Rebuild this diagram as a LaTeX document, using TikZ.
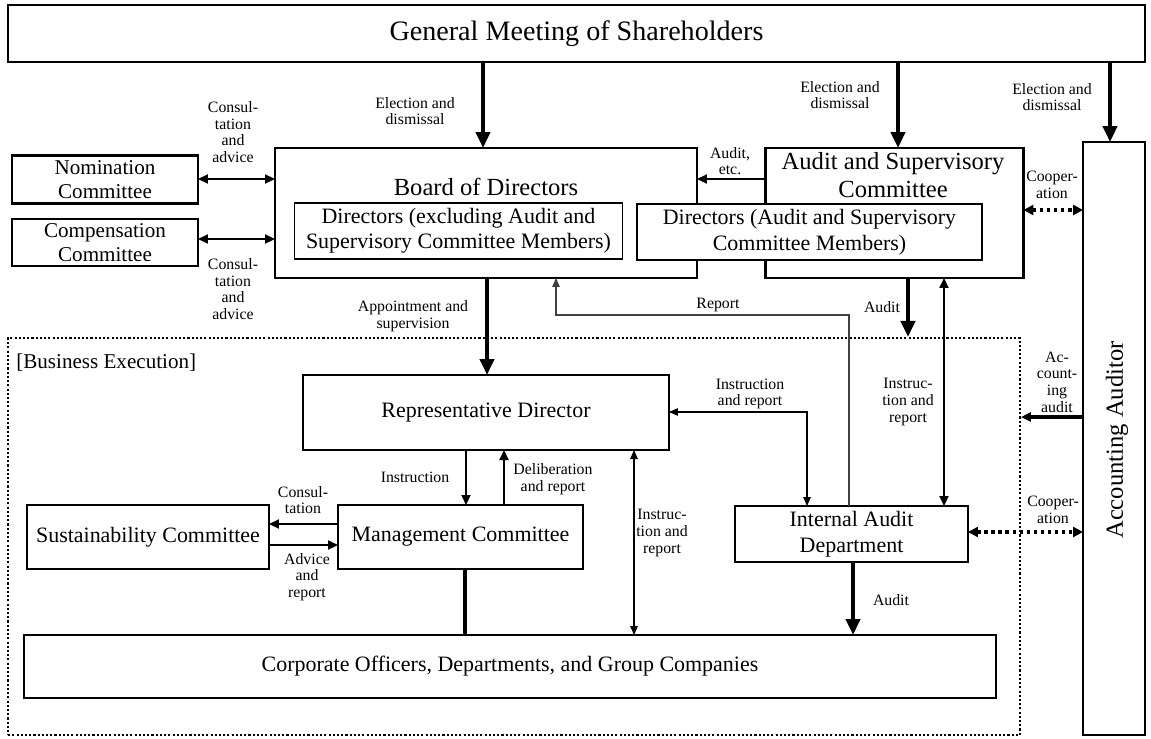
\documentclass[tikz,border=0pt]{standalone}
\usepackage{fontspec}
\setmainfont{Liberation Serif}
\usetikzlibrary{arrows.meta, positioning}

\begin{document}
\begin{tikzpicture}[
    x=0.02cm, y=-0.02cm,
    orgbox/.style={
        draw, line width=1.3pt,
        fill=white,
        align=center,
        inner sep=0pt, outer sep=0pt,
        font=\fontsize{12.5}{14.5}\selectfont
    },
    innerbox/.style={orgbox, line width=1pt},
    titletext/.style={align=center, inner sep=0pt, font=\fontsize{14}{15.5}\selectfont},
    lbl/.style={align=center, inner sep=0pt, font=\fontsize{9}{9.5}\selectfont},
    bigarrow/.style={-{Triangle[length=0.32cm, width=0.28cm]}, line width=2.5pt},
    arrow/.style={-{Triangle[length=0.2cm, width=0.18cm]}, line width=1.1pt},
    biarrow/.style={{Triangle[length=0.2cm, width=0.18cm]}-{Triangle[length=0.2cm, width=0.18cm]}, line width=1.1pt},
    thinarrow/.style={-{Triangle[length=0.18cm, width=0.15cm]}, line width=0.6pt},
    thinbiarrow/.style={{Triangle[length=0.18cm, width=0.15cm]}-{Triangle[length=0.18cm, width=0.15cm]}, line width=0.6pt},
    coop/.style={{Triangle[length=0.2cm, width=0.2cm]}-{Triangle[length=0.2cm, width=0.2cm]}, line width=2pt, dash pattern=on 2pt off 2pt}
]
    \useasboundingbox (0,0) rectangle (1151,738);

    % --- Top level ---
    \node[orgbox, minimum width=22.74cm, minimum height=1.14cm, font=\fontsize{16}{18}\selectfont] (gms) at (576.5,33.5) {General Meeting of Shareholders};

    % --- Committees on the left ---
    \node[orgbox, minimum width=3.72cm, minimum height=0.96cm, font=\fontsize{12}{14}\selectfont] (nom) at (105,179.5) {Nomination\\Committee};
    \node[orgbox, minimum width=3.72cm, minimum height=0.94cm, font=\fontsize{12}{14}\selectfont] (comp) at (105,242.5) {Compensation\\Committee};

    % --- Board and audit committee ---
    \node[orgbox, minimum width=8.44cm, minimum height=2.6cm] (board) at (486,213) {};
    \node[titletext] (boardt) at (486,187) {Board of Directors};
    \node[orgbox, minimum width=5.16cm, minimum height=2.6cm] (asc) at (894.5,213) {};
    \node[titletext] (asct) at (893,175) {Audit and Supervisory\\Committee};
    \node[innerbox, minimum width=6.56cm, minimum height=1.12cm] (dirs) at (458.5,231) {Directors (excluding Audit and\\Supervisory Committee Members)};
    \node[innerbox, minimum width=6.9cm, minimum height=1.12cm] (dirsasc) at (809.5,232) {Directors (Audit and Supervisory\\Committee Members)};

    % --- Accounting auditor ---
    \node[orgbox, line width=1.1pt, minimum width=1.24cm, minimum height=11.86cm] (acct) at (1114,438.5) {};
    \node[titletext, rotate=90] (acctt) at (1117,440) {Accounting Auditor};

    % --- Business execution ---
    \node[draw, line width=1.2pt, dash pattern=on 1.2pt off 1.2pt, inner sep=0pt, minimum width=20.24cm, minimum height=7.94cm] (exec) at (514,536.5) {};
    \node[anchor=west, inner sep=0pt, font=\fontsize{12}{14}\selectfont] (execl) at (16,363) {[Business Execution]};
    \node[orgbox, minimum width=7.32cm, minimum height=1.5cm] (rep) at (486,412.5) {Representative Director};
    \node[orgbox, minimum width=4.84cm, minimum height=1.28cm] (sus) at (148,537) {Sustainability Committee};
    \node[orgbox, minimum width=4.9cm, minimum height=1.28cm] (mgmt) at (460.5,537) {Management Committee};
    \node[orgbox, minimum width=4.66cm, minimum height=1.12cm] (ia) at (851.5,534) {Internal Audit\\Department};
    \node[orgbox, minimum width=19.44cm, minimum height=1.26cm] (corp) at (510,666.5) {Corporate Officers, Departments, and Group Companies};

    % --- Election and dismissal ---
    \draw[bigarrow] (gms.south -| 483,0) -- (board.north -| 483,0);
    \draw[bigarrow] (gms.south -| 898,0) -- (asc.north -| 898,0);
    \draw[bigarrow] (gms.south -| 1110,0) -- (acct.north -| 1110,0);
    \node[lbl] (el1) at (415,111) {Election and\\dismissal};
    \node[lbl] (el2) at (840,95) {Election and\\dismissal};
    \node[lbl] (el3) at (1052,97) {Election and\\dismissal};

    % --- Around the board ---
    \draw[biarrow] (nom.east |- 0,179) -- (board.west |- 0,179);
    \draw[biarrow] (comp.east |- 0,239) -- (board.west |- 0,239);
    \node[lbl] (cons1) at (233,132) {Consul-\\tation\\and\\advice};
    \node[lbl] (cons2) at (233,289) {Consul-\\tation\\and\\advice};
    \draw[arrow] (asc.west |- 0,179) -- (board.east |- 0,179);
    \node[lbl] (auditetc) at (730,161) {Audit,\\etc.};
    \draw[coop] (asc.east |- 0,210) -- (acct.west |- 0,210);
    \node[lbl] (coop1) at (1052,185) {Cooper-\\ation};

    % --- Board to execution ---
    \draw[bigarrow] (board.south -| 487,0) -- (rep.north -| 487,0);
    \node[lbl] (appt) at (413,316) {Appointment and\\supervision};
    \draw[thinarrow, black!75] (ia.north -| 849,0) |- (556,315) -- (board.south -| 556,0);
    \node[lbl] (report) at (718,305) {Report};
    \draw[bigarrow] (asc.south -| 908,0) -- (exec.north -| 908,0);
    \node[lbl] (audit1) at (882,307) {Audit};
    \draw[biarrow] (asc.south -| 944,0) -- (ia.north -| 944,0);
    \node[lbl] (instr1) at (908,402) {Instruc-\\tion and\\report};

    % --- Inside business execution ---
    \draw[thinbiarrow] (rep.east |- 0,412) -| (ia.north -| 807,0);
    \node[lbl] (instr2) at (750,394) {Instruction\\and report};
    \draw[arrow] (rep.south -| 466,0) -- (mgmt.north -| 466,0);
    \node[lbl] (instrn) at (415,477) {Instruction};
    \draw[arrow] (mgmt.north -| 504,0) -- (rep.south -| 504,0);
    \node[lbl] (delib) at (553,479) {Deliberation\\and report};
    \draw[arrow] (mgmt.west |- 0,524) -- (sus.east |- 0,524);
    \node[lbl] (cons3) at (303,500) {Consul-\\tation};
    \draw[arrow] (sus.east |- 0,545) -- (mgmt.west |- 0,545);
    \node[lbl] (advice) at (307,577) {Advice\\and\\report};
    \draw[line width=1.8pt] (mgmt.south -| 465,0) -- (corp.north -| 465,0);
    \draw[thinbiarrow] (rep.south -| 634,0) -- (corp.north -| 634,0);
    \node[lbl] (instr3) at (662,533) {Instruc-\\tion and\\report};
    \draw[bigarrow] (ia.south -| 853,0) -- (corp.north -| 853,0);
    \node[lbl] (audit2) at (891,600) {Audit};

    % --- Accounting auditor links ---
    \draw[coop] (ia.east |- 0,532) -- (acct.west |- 0,532);
    \node[lbl] (coop2) at (1053,510) {Cooper-\\ation};
    \draw[arrow, line width=1.8pt] (acct.west |- 0,417) -- (exec.east |- 0,417);
    \node[lbl] (accaud) at (1057,382) {Ac-\\count-\\ing\\audit};

\end{tikzpicture}
\end{document}
